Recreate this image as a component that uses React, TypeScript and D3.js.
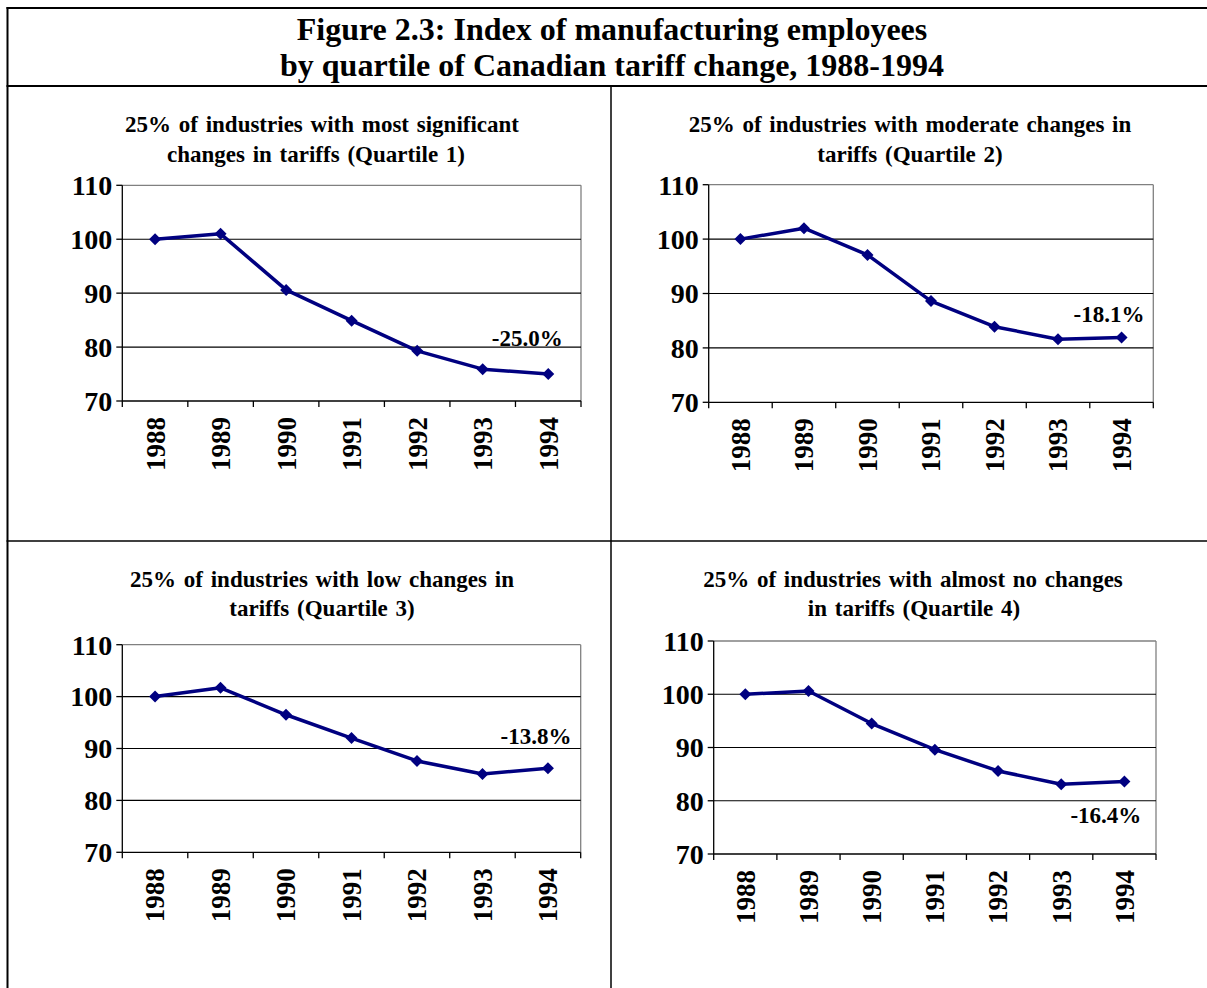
import React from 'react';
import * as d3 from 'd3';

const years = ['1988', '1989', '1990', '1991', '1992', '1993', '1994'];
const q1Values = [100, 101.0, 90.6, 84.9, 79.3, 75.9, 75.0];
const q2Values = [100, 102.0, 97.1, 88.6, 83.9, 81.6, 81.9];
const q3Values = [100, 101.7, 96.5, 92.0, 87.6, 85.1, 86.2];
const q4Values = [100, 100.6, 94.5, 89.6, 85.6, 83.1, 83.6];
const yTicks = [70, 80, 90, 100, 110];
const changeLabels = ['-25.0%', '-18.1%', '-13.8%', '-16.4%'];
const subtitleLine1 = [
  '25% of industries with most significant',
  '25% of industries with moderate changes in',
  '25% of industries with low changes in',
  '25% of industries with almost no changes',
];
const subtitleLine2 = [
  'changes in tariffs (Quartile 1)',
  'tariffs (Quartile 2)',
  'tariffs (Quartile 3)',
  'in tariffs (Quartile 4)',
];
const titleLines = [
  'Figure 2.3: Index of manufacturing employees',
  'by quartile of Canadian tariff change, 1988-1994',
];

const FONT = '"Liberation Serif", "Times New Roman", serif';
const NAVY = '#000080';

type Layout = {
  left: number; right: number; top: number; bottom: number;
  cx1: number; cx2: number; sub1: number; sub2: number;
  labelValue: number; labelDx: number;
};

const layouts: Layout[] = [
  { left: 122.3, right: 581, top: 185.3, bottom: 401, cx1: 322, cx2: 316, sub1: 132, sub2: 162, labelValue: 80.26, labelDx: -21 },
  { left: 708.7, right: 1153.3, top: 184.7, bottom: 402.3, cx1: 910, cx2: 910, sub1: 132, sub2: 162, labelValue: 84.8, labelDx: -12.5 },
  { left: 122.3, right: 580.7, top: 644.7, bottom: 852.3, cx1: 322, cx2: 322, sub1: 587, sub2: 616, labelValue: 90.9, labelDx: -12 },
  { left: 713.7, right: 1156, top: 641, bottom: 854, cx1: 913, cx2: 914, sub1: 587, sub2: 616, labelValue: 75.8, labelDx: -18.5 },
];

const seriesList = [q1Values, q2Values, q3Values, q4Values];

function Panel({ idx }: { idx: number }) {
  const L = layouts[idx];
  const values = seriesList[idx];
  const x = d3.scaleBand<string>().domain(years).range([L.left, L.right]).padding(0);
  const y = d3.scaleLinear().domain([70, 110]).range([L.bottom, L.top]);
  const bw = x.bandwidth();
  const cx = (yr: string) => (x(yr) as number) + bw / 2;
  const line = d3.line<number>().x((_, i) => cx(years[i])).y((v) => y(v));
  const r = 6;
  const diamond = `M0,${-r}L${r},0L0,${r}L${-r},0Z`;
  const lastYear = years[years.length - 1];
  const boundaries = years.map((yr) => x(yr) as number).concat([L.right]);
  return (
    <g>
      <text x={L.cx1} y={L.sub1} textAnchor="middle" fontFamily={FONT} fontWeight="bold" fontSize={23} wordSpacing={2}>
        {subtitleLine1[idx]}
      </text>
      <text x={L.cx2} y={L.sub2} textAnchor="middle" fontFamily={FONT} fontWeight="bold" fontSize={23} wordSpacing={2}>
        {subtitleLine2[idx]}
      </text>
      <line x1={L.left} x2={L.right} y1={y(110)} y2={y(110)} stroke="#808080" strokeWidth={1.3} />
      <line x1={L.right} x2={L.right} y1={y(110)} y2={y(70)} stroke="#808080" strokeWidth={1.3} />
      {yTicks.filter((t) => t > 70 && t < 110).map((t) => (
        <line key={t} x1={L.left} x2={L.right} y1={y(t)} y2={y(t)} stroke="#000" strokeWidth={1.1} />
      ))}
      <line x1={L.left} x2={L.left} y1={y(110)} y2={y(70)} stroke="#000" strokeWidth={1.3} />
      <line x1={L.left} x2={L.right} y1={y(70)} y2={y(70)} stroke="#000" strokeWidth={1.3} />
      {yTicks.map((t) => (
        <g key={t}>
          <line x1={L.left - 6} x2={L.left} y1={y(t)} y2={y(t)} stroke="#000" strokeWidth={1.3} />
          <text x={L.left - 10} y={y(t)} dy="0.35em" textAnchor="end" fontFamily={FONT} fontWeight="bold" fontSize={28}>
            {t}
          </text>
        </g>
      ))}
      {boundaries.map((bx, i) => (
        <line key={i} x1={bx} x2={bx} y1={y(70)} y2={y(70) + 6} stroke="#000" strokeWidth={1.3} />
      ))}
      {years.map((yr) => (
        <text
          key={yr}
          transform={`translate(${cx(yr)},${y(70) + 16}) rotate(-90)`}
          textAnchor="end"
          dy="0.35em"
          fontFamily={FONT}
          fontWeight="bold"
          fontSize={27}
        >
          {yr}
        </text>
      ))}
      <path d={line(values) || ''} fill="none" stroke={NAVY} strokeWidth={3.5} strokeLinejoin="round" />
      {values.map((v, i) => (
        <path key={i} d={diamond} transform={`translate(${cx(years[i])},${y(v)})`} fill={NAVY} />
      ))}
      <text
        x={cx(lastYear) + L.labelDx}
        y={y(L.labelValue)}
        textAnchor="middle"
        fontFamily={FONT}
        fontWeight="bold"
        fontSize={23}
      >
        {changeLabels[idx]}
      </text>
    </g>
  );
}

export default function App() {
  return (
    <svg width={1207} height={988} style={{ position: 'absolute', left: 0, top: 0, background: '#fff' }}>
      <rect x={0} y={0} width={1207} height={988} fill="#fff" />
      <line x1={7.5} x2={7.5} y1={7} y2={988} stroke="#000" strokeWidth={2} />
      <line x1={6.5} x2={1207} y1={8} y2={8} stroke="#000" strokeWidth={2} />
      <line x1={6.5} x2={1207} y1={86} y2={86} stroke="#000" strokeWidth={2} />
      <line x1={611} x2={611} y1={86} y2={988} stroke="#000" strokeWidth={1.5} />
      <line x1={6.5} x2={1207} y1={541} y2={541} stroke="#000" strokeWidth={1.5} />
      <text x={612} y={40} textAnchor="middle" fontFamily={FONT} fontWeight="bold" fontSize={32}>
        {titleLines[0]}
      </text>
      <text x={612} y={76} textAnchor="middle" fontFamily={FONT} fontWeight="bold" fontSize={32}>
        {titleLines[1]}
      </text>
      {layouts.map((_, i) => (
        <Panel key={i} idx={i} />
      ))}
    </svg>
  );
}
